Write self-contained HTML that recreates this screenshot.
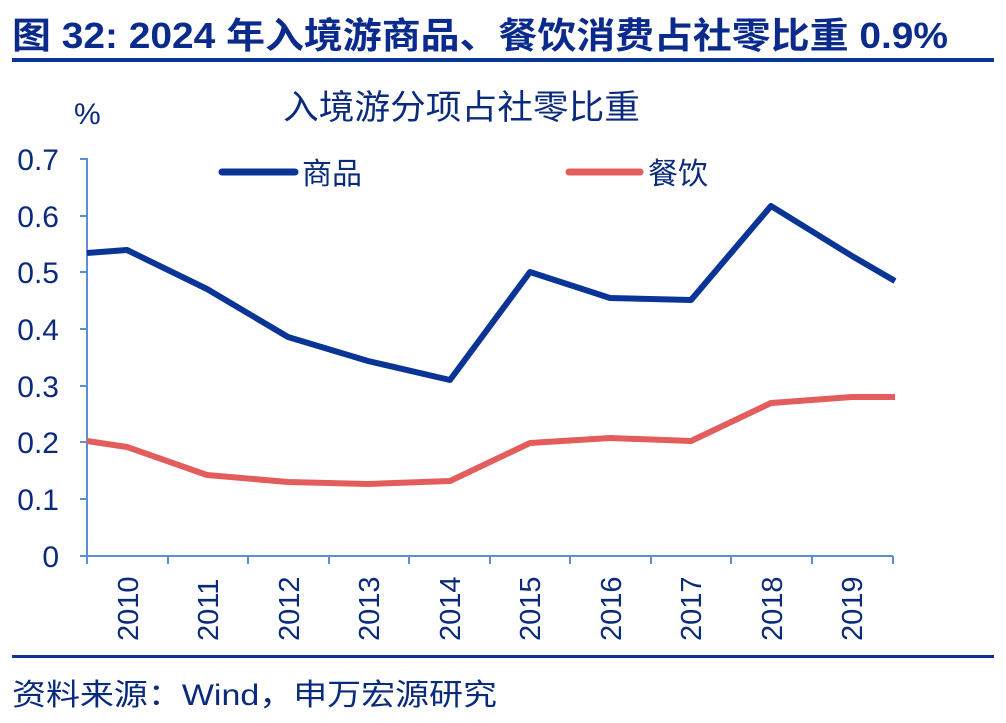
<!DOCTYPE html><html><head><meta charset="utf-8"><style>
body{margin:0;background:#fff;width:1006px;height:718px;overflow:hidden}
</style></head><body>
<svg width="1006" height="718" xmlns="http://www.w3.org/2000/svg" font-family="'Liberation Sans','Noto Sans CJK SC',sans-serif">
<text x="12" y="48" font-size="36" font-weight="bold" fill="#0a2a8c" textLength="936" lengthAdjust="spacingAndGlyphs">图 32: 2024 年入境游商品、餐饮消费占社零比重 0.9%</text>
<rect x="12" y="58" width="982" height="4" fill="#0a3597"/>
<text x="283" y="119" font-size="34" fill="#0a2a7c" textLength="357" lengthAdjust="spacingAndGlyphs">入境游分项占社零比重</text>
<text x="74" y="124" font-size="30" fill="#0a2a7c">%</text>
<g font-size="30" fill="#0a2a7c" text-anchor="end">
<text x="59" y="170">0.7</text><text x="59" y="227">0.6</text><text x="59" y="283">0.5</text><text x="59" y="340">0.4</text><text x="59" y="397">0.3</text><text x="59" y="453">0.2</text><text x="59" y="510">0.1</text><text x="59" y="567">0</text>
</g>
<g stroke="#5b8fd0" stroke-width="2" fill="none">
<path d="M80 159H87V556H893"/>
<path d="M80 216H87M80 272H87M80 329H87M80 386H87M80 442H87M80 499H87M80 556H87"/>
<path d="M87 556v8M168 556v8M248 556v8M329 556v8M409 556v8M490 556v8M570 556v8M651 556v8M731 556v8M812 556v8M893 556v8"/>
</g>
<g font-size="29" fill="#0a2a7c">
<text transform="translate(138,641) rotate(-90)">2010</text>
<text transform="translate(218,641) rotate(-90)">2011</text>
<text transform="translate(299,641) rotate(-90)">2012</text>
<text transform="translate(379,641) rotate(-90)">2013</text>
<text transform="translate(460,641) rotate(-90)">2014</text>
<text transform="translate(540,641) rotate(-90)">2015</text>
<text transform="translate(621,641) rotate(-90)">2016</text>
<text transform="translate(701,641) rotate(-90)">2017</text>
<text transform="translate(782,641) rotate(-90)">2018</text>
<text transform="translate(862,641) rotate(-90)">2019</text>
</g>
<polyline fill="none" stroke="#e35d5d" stroke-width="6" stroke-linejoin="round" points="87,441 127,447 207,475 288,482 368,484 450,481 530,443 610,438 691,441 771,403 852,397 895,397"/>
<polyline fill="none" stroke="#0a3597" stroke-width="6" stroke-linejoin="round" points="87,253 127,250 207,289 288,337 368,361 450,380 530,272 610,298 691,300 771,206 852,256 895,281"/>
<line x1="222" y1="172" x2="295" y2="172" stroke="#0a3597" stroke-width="7" stroke-linecap="round"/>
<text x="302" y="184" font-size="30" fill="#0a2a7c">商品</text>
<line x1="569" y1="172" x2="640" y2="172" stroke="#e35d5d" stroke-width="7" stroke-linecap="round"/>
<text x="648" y="184" font-size="30" fill="#0a2a7c">餐饮</text>
<rect x="12" y="655" width="982" height="3" fill="#0a3597"/>
<text x="12" y="705" font-size="30" fill="#0a2a7c" textLength="485" lengthAdjust="spacingAndGlyphs">资料来源：Wind，申万宏源研究</text>
</svg>
</body></html>
